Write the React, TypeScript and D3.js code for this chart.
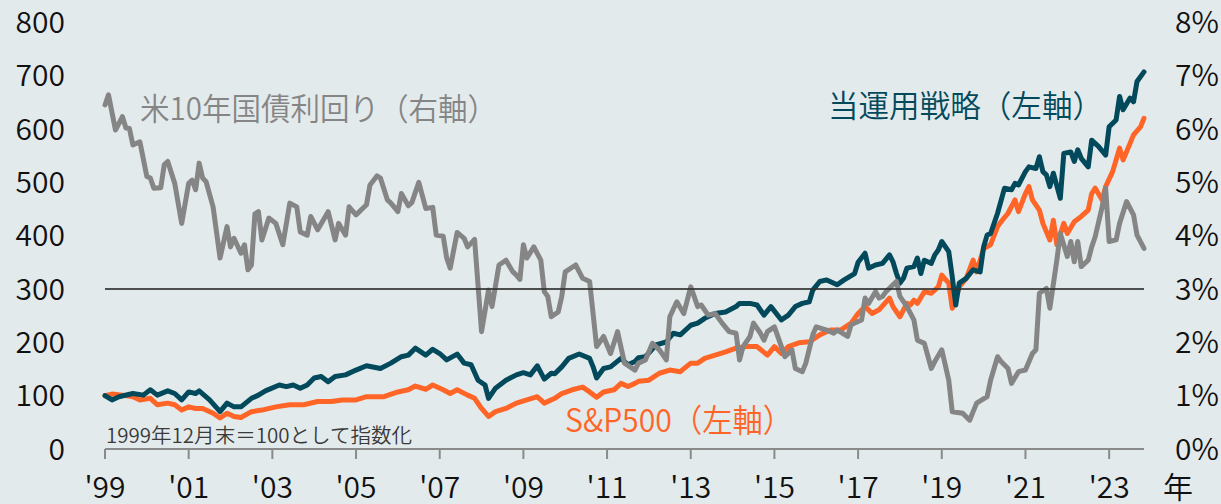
import React from 'react';
import * as d3 from 'd3';

// months since end of Dec 1999, index value (Dec 1999 = 100)
const strategy: [number, number][] = [
  [0, 100], [2, 92], [4, 98], [8, 104], [11, 101], [13, 111], [15, 101], [18, 109], [20, 104], [22, 92],
  [24, 107], [26, 104], [27, 109], [30, 92], [33, 70], [35, 86], [37, 79], [39, 79], [42, 95], [44, 101],
  [46, 109], [50, 120], [52, 117], [54, 120], [56, 114], [58, 120], [60, 133], [62, 136], [64, 126], [66, 136],
  [69, 139], [72, 148], [75, 156], [79, 151], [82, 161], [85, 173], [87, 176], [89, 189], [92, 176], [94, 187],
  [96, 179], [98, 167], [101, 178], [103, 161], [105, 158], [107, 129], [109, 120], [110, 95], [112, 114], [115, 129],
  [118, 139], [120, 143], [122, 139], [124, 156], [126, 131], [128, 142], [129, 141], [131, 154], [133, 170], [136, 178],
  [139, 170], [140, 154], [141, 133], [143, 151], [145, 154], [148, 170], [150, 158], [152, 164], [153, 171], [155, 173],
  [158, 195], [161, 201], [163, 217], [165, 214], [168, 232], [170, 236], [172, 245], [175, 254], [178, 257], [181, 267],
  [182, 273], [185, 273], [187, 270], [189, 251], [191, 267], [194, 242], [196, 251], [198, 267], [200, 273], [202, 276],
  [203, 298], [205, 314], [207, 317], [210, 308], [212, 317], [215, 329], [216, 350], [218, 367], [219, 339], [221, 345],
  [223, 348], [225, 364], [226, 351], [227, 329], [228, 311], [229, 320], [230, 339], [232, 342], [233, 358], [234, 329],
  [235, 354], [237, 348], [238, 364], [239, 373], [240, 389], [242, 370], [243, 323], [244, 270], [245, 311], [247, 320],
  [249, 336], [251, 332], [252, 379], [253, 401], [254, 404], [256, 442], [258, 489], [260, 486], [261, 498], [262, 495],
  [264, 520], [265, 529], [267, 526], [268, 548], [269, 520], [270, 514], [271, 492], [272, 517], [274, 470], [275, 554],
  [277, 557], [278, 539], [279, 561], [280, 545], [282, 529], [283, 579], [285, 567], [287, 551], [288, 604], [290, 617],
  [291, 661], [292, 636], [294, 658], [295, 651], [296, 689], [298, 707],
];

const sp500: [number, number][] = [
  [0, 100], [2, 103], [5, 101], [8, 98], [10, 92], [13, 95], [15, 83], [18, 86], [20, 83], [22, 73],
  [24, 79], [26, 76], [28, 76], [31, 67], [33, 58], [35, 67], [37, 61], [39, 59], [42, 70], [45, 73],
  [49, 79], [53, 83], [57, 83], [61, 89], [65, 89], [68, 92], [72, 92], [75, 98], [80, 98], [84, 107],
  [87, 111], [89, 118], [92, 112], [94, 120], [97, 111], [99, 104], [101, 111], [104, 101], [106, 95], [108, 76],
  [110, 61], [112, 70], [115, 76], [118, 86], [121, 92], [124, 98], [126, 86], [129, 95], [131, 104], [134, 111],
  [137, 116], [139, 107], [141, 97], [143, 107], [146, 111], [148, 123], [150, 117], [152, 123], [153, 127], [156, 129],
  [159, 142], [162, 148], [165, 145], [168, 161], [170, 161], [172, 170], [175, 176], [178, 182], [181, 189], [184, 192],
  [187, 192], [190, 176], [192, 192], [194, 179], [196, 192], [199, 199], [202, 201], [205, 214], [208, 223], [211, 223],
  [214, 236], [216, 254], [218, 267], [220, 254], [222, 261], [225, 283], [226, 267], [228, 248], [230, 273], [231, 270],
  [232, 279], [233, 273], [235, 295], [237, 292], [239, 304], [240, 326], [242, 311], [243, 264], [245, 304], [247, 320],
  [249, 354], [250, 332], [252, 376], [254, 383], [256, 417], [257, 426], [259, 442], [261, 467], [262, 445], [264, 479],
  [265, 492], [266, 467], [268, 448], [269, 423], [271, 392], [272, 429], [273, 383], [275, 423], [276, 404], [278, 426],
  [280, 436], [282, 448], [283, 479], [284, 489], [286, 467], [287, 492], [289, 520], [291, 564], [292, 542], [294, 573],
  [295, 589], [297, 604], [298, 620],
];

// US 10y treasury yield, %
const ust10y: [number, number][] = [
  [0, 6.45], [1, 6.64], [3, 5.98], [5, 6.23], [6, 6.02], [7, 6.01], [8, 5.7], [10, 5.76], [12, 5.11], [13, 5.08],
  [14, 4.89], [16, 4.9], [17, 5.33], [18, 5.39], [20, 4.98], [22, 4.23], [24, 4.98], [25, 5.04], [26, 4.86], [27, 5.36],
  [28, 5.08], [29, 5.01], [31, 4.54], [33, 3.58], [35, 4.17], [36, 3.79], [37, 3.95], [39, 3.67], [40, 3.83], [41, 3.36],
  [42, 3.45], [43, 4.41], [44, 4.45], [45, 3.92], [47, 4.33], [49, 4.23], [51, 3.83], [53, 4.61], [55, 4.54], [56, 4.07],
  [58, 4.01], [59, 4.36], [61, 4.11], [64, 4.45], [66, 3.92], [67, 4.23], [69, 4.01], [70, 4.54], [72, 4.39], [75, 4.58],
  [76, 4.95], [78, 5.12], [79, 5.08], [81, 4.67], [82, 4.61], [84, 4.45], [85, 4.79], [87, 4.56], [88, 4.62], [90, 5.0],
  [92, 4.51], [94, 4.53], [95, 4.01], [97, 3.99], [98, 3.58], [99, 3.39], [101, 4.06], [103, 3.95], [104, 3.79], [106, 3.93],
  [108, 2.2], [110, 2.98], [111, 2.67], [113, 3.45], [115, 3.54], [117, 3.32], [118, 3.26], [119, 3.18], [120, 3.83], [121, 3.58],
  [123, 3.79], [125, 3.54], [126, 2.95], [127, 2.86], [128, 2.48], [130, 2.57], [131, 2.86], [132, 3.32], [135, 3.45], [137, 3.2],
  [139, 3.14], [141, 1.92], [143, 2.11], [145, 1.79], [147, 2.2], [149, 1.61], [152, 1.48], [153, 1.61], [155, 1.67], [157, 1.98],
  [159, 1.86], [161, 1.67], [162, 2.48], [164, 2.76], [166, 2.54], [168, 3.04], [170, 2.67], [171, 2.7], [173, 2.51], [175, 2.54],
  [177, 2.36], [179, 2.2], [181, 2.17], [182, 1.67], [183, 1.92], [185, 2.11], [186, 2.36], [188, 2.17], [189, 2.04], [190, 2.2],
  [192, 2.29], [194, 1.92], [195, 1.73], [197, 1.86], [198, 1.51], [200, 1.45], [201, 1.61], [203, 2.14], [204, 2.29], [207, 2.23],
  [209, 2.17], [210, 2.23], [213, 2.11], [214, 2.33], [216, 2.39], [217, 2.42], [218, 2.83], [219, 2.73], [221, 2.95], [222, 2.83],
  [223, 2.86], [224, 2.95], [226, 3.08], [227, 3.14], [228, 2.86], [230, 2.67], [232, 2.42], [233, 2.04], [235, 1.98], [237, 1.51],
  [238, 1.64], [240, 1.86], [242, 1.29], [243, 0.7], [246, 0.67], [248, 0.54], [249, 0.7], [250, 0.86], [253, 0.98], [254, 1.29],
  [256, 1.73], [257, 1.64], [259, 1.51], [260, 1.23], [262, 1.45], [264, 1.48], [266, 1.79], [267, 1.86], [268, 2.92], [270, 3.01],
  [271, 2.64], [273, 3.54], [274, 4.04], [276, 3.61], [277, 3.89], [278, 3.51], [279, 3.89], [280, 3.42], [282, 3.54], [283, 3.79],
  [284, 3.98], [286, 4.54], [287, 4.89], [288, 3.89], [290, 3.92], [291, 4.23], [293, 4.64], [295, 4.39], [296, 4.01], [298, 3.76],
];

const xTickLabels = ["'99", "'01", "'03", "'05", "'07", "'09", "'11", "'13", "'15", "'17", "'19", "'21", "'23"];
const leftTicks = [0, 100, 200, 300, 400, 500, 600, 700, 800];
const rightTicks = [0, 1, 2, 3, 4, 5, 6, 7, 8];

const W = 1221;
const H = 504;
const FONT = '"Noto Sans CJK JP", "Noto Sans", sans-serif';
const TEAL = '#03495c';
const ORANGE = '#ff6526';
const GRAY = '#858585';

const x = d3.scaleLinear().domain([0, 298]).range([105, 1144]);
const yL = d3.scaleLinear().domain([0, 800]).range([449, 22.3]);
const yR = d3.scaleLinear().domain([0, 8]).range([449, 22.3]);

const lineL = d3.line<[number, number]>().x(d => x(d[0])).y(d => yL(d[1]));
const lineR = d3.line<[number, number]>().x(d => x(d[0])).y(d => yR(d[1]));

export default function App() {
  return (
    <svg width={W} height={H} style={{ position: 'absolute', left: 0, top: 0, display: 'block' }} fontFamily={FONT} fontWeight={350}>
      <rect width={W} height={H} fill="#e3eaec" />

      {leftTicks.map(v => (
        <text key={'l' + v} x={65} y={yL(v)} dy="0.36em" textAnchor="end" fontSize={30} fill="#111">{v}</text>
      ))}
      {rightTicks.map(v => (
        <text key={'r' + v} x={1175} y={yR(v)} dy="0.36em" textAnchor="start" fontSize={30} fill="#111">{v}%</text>
      ))}

      <line x1={x(0)} x2={x(298)} y1={yL(0)} y2={yL(0)} stroke="#8a8a8a" strokeWidth={2} />
      {xTickLabels.map((t, i) => (
        <g key={t} transform={`translate(${x(i * 24)},0)`}>
          <line y1={yL(0)} y2={yL(0) + 10} stroke="#8a8a8a" strokeWidth={2} />
          <text y={498} textAnchor="middle" fontSize={30} fill="#111">{t}</text>
        </g>
      ))}
      <text x={1178} y={498} textAnchor="middle" fontSize={30} fill="#111">年</text>

      <path d={lineL(sp500) || ''} fill="none" stroke={ORANGE} strokeWidth={5} strokeLinejoin="round" strokeLinecap="round" />
      <path d={lineL(strategy) || ''} fill="none" stroke={TEAL} strokeWidth={5} strokeLinejoin="round" strokeLinecap="round" />
      <path d={lineR(ust10y) || ''} fill="none" stroke={GRAY} strokeWidth={5} strokeLinejoin="round" strokeLinecap="round" />

      <line x1={x(0)} x2={x(298)} y1={yL(300)} y2={yL(300)} stroke="#333" strokeOpacity={0.85} strokeWidth={2} />

      <text x={140} y={120} fontSize={31} fill={GRAY} textLength={357} lengthAdjust="spacingAndGlyphs">米10年国債利回り（右軸）</text>
      <text x={828} y={117} fontSize={31} fill={TEAL} textLength={275} lengthAdjust="spacingAndGlyphs">当運用戦略（左軸）</text>
      <text x={565} y={432} fontSize={32} fill={ORANGE} textLength={228} lengthAdjust="spacingAndGlyphs">S&amp;P500（左軸）</text>
      <text x={106} y={443} fontSize={20} fill="#3a3a3a" textLength={306} lengthAdjust="spacingAndGlyphs">1999年12月末＝100として指数化</text>
    </svg>
  );
}
